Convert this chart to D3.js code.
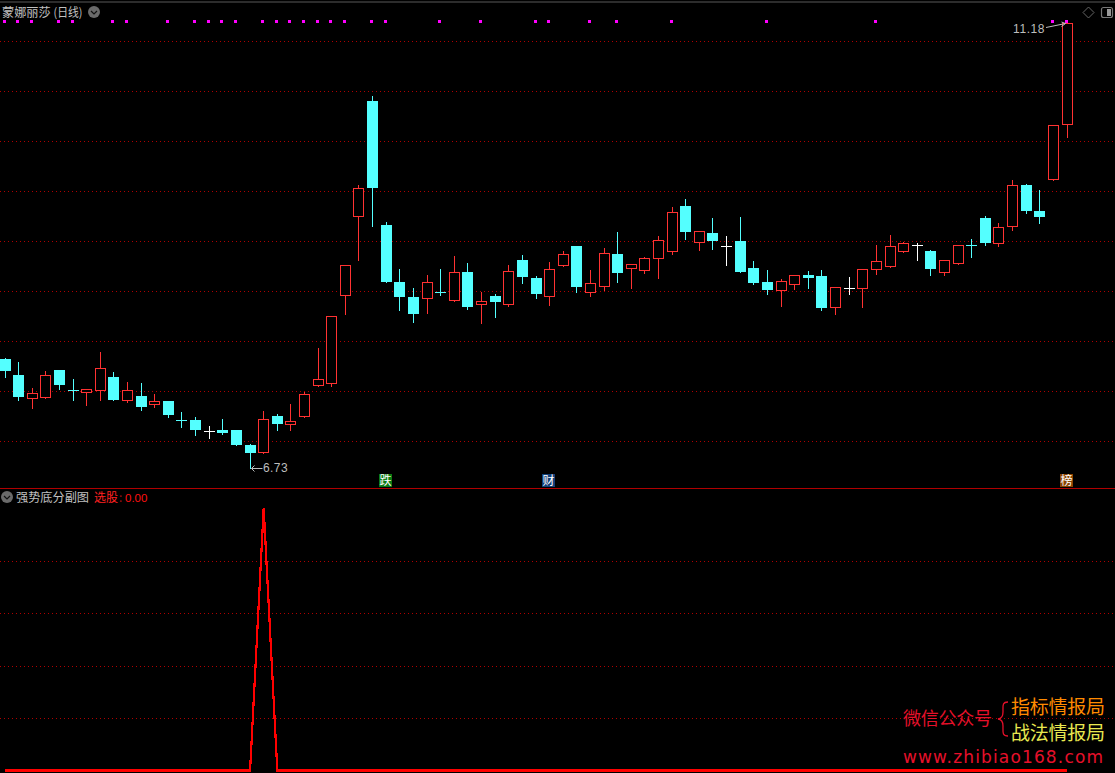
<!DOCTYPE html>
<html><head><meta charset="utf-8">
<script src="https://cdn.jsdelivr.net/npm/d3@7/dist/d3.min.js"></script>
<style>html,body{margin:0;padding:0;background:#000;overflow:hidden}svg{display:block}</style>
</head><body><svg id="c" width="1115" height="773"></svg>
<script>
const opens=[7.82,7.66,7.42,7.43,7.71,7.51,7.48,7.50,7.64,7.40,7.45,7.36,7.40,7.21,7.21,7.10,7.11,7.11,6.96,6.88,7.25,7.16,7.24,7.55,7.57,8.45,9.24,10.40,9.16,8.59,8.44,8.42,8.49,8.40,8.69,8.36,8.45,8.36,8.81,8.63,8.44,8.75,8.95,8.48,8.54,8.87,8.72,8.70,8.82,8.89,9.35,8.98,9.08,8.95,9.00,8.73,8.59,8.50,8.56,8.66,8.65,8.33,8.53,8.52,8.71,8.74,8.89,8.96,8.90,8.68,8.77,8.96,9.23,8.97,9.14,9.56,9.30,9.61,10.16];
const closes=[7.70,7.44,7.48,7.66,7.56,7.50,7.52,7.73,7.41,7.51,7.34,7.40,7.26,7.20,7.11,7.10,7.08,6.96,6.88,7.22,7.17,7.20,7.47,7.62,8.25,8.76,9.53,9.53,8.59,8.44,8.27,8.59,8.48,8.69,8.34,8.40,8.39,8.70,8.64,8.47,8.72,8.87,8.54,8.58,8.88,8.68,8.77,8.83,9.01,9.29,9.09,9.10,9.00,8.95,8.69,8.58,8.51,8.60,8.66,8.63,8.33,8.54,8.53,8.72,8.80,8.95,8.98,8.96,8.72,8.81,8.96,8.95,8.98,9.14,9.56,9.30,9.24,10.16,11.18];
const highs=[7.84,7.80,7.54,7.71,7.71,7.63,7.53,7.90,7.70,7.60,7.59,7.48,7.41,7.30,7.25,7.16,7.23,7.11,6.98,7.31,7.28,7.38,7.50,7.94,8.25,8.76,9.57,10.46,9.20,8.73,8.54,8.67,8.73,8.86,8.79,8.50,8.48,8.77,8.87,8.66,8.80,8.91,8.96,8.72,8.94,9.10,8.77,8.85,9.06,9.35,9.43,9.10,9.24,9.06,9.25,8.81,8.72,8.63,8.67,8.71,8.72,8.54,8.65,8.72,8.97,9.07,9.00,8.99,8.92,8.81,8.97,9.03,9.26,9.19,9.62,9.58,9.52,10.16,11.18];
const lows=[7.64,7.41,7.33,7.43,7.52,7.41,7.36,7.41,7.41,7.39,7.31,7.34,7.24,7.14,7.06,7.03,7.07,6.96,6.73,6.88,7.11,7.11,7.24,7.55,7.55,8.27,8.81,9.15,8.59,8.31,8.19,8.28,8.46,8.40,8.32,8.18,8.24,8.35,8.58,8.43,8.36,8.75,8.49,8.45,8.51,8.59,8.53,8.68,8.63,8.87,9.02,8.91,8.92,8.76,8.69,8.57,8.47,8.35,8.52,8.53,8.31,8.27,8.47,8.34,8.67,8.74,8.89,8.81,8.66,8.66,8.77,8.84,8.96,8.95,9.11,9.28,9.18,9.61,10.04];
const signalDots=[0,1,2,4,5,8,9,12,14,15,16,17,19,20,21,22,23,24,25,27,28,32,35,39,40,43,45,49,56,64,77,78];
const priceTicks=[7,7.5,8,8.5,9,9.5,10,10.5,11];
const pickValues=opens.map((_,i)=>i===19?1:0);
const pickTicks=[0.2,0.4,0.6,0.8];
const markers=[{i:28,t:"跌",bg:"#0b7a12"},{i:40,t:"财",bg:"#123f78"},{i:78,t:"榜",bg:"#8a4300"}];

const RED="#ff3232",CYAN="#54ffff",GRID="#b00000";
const CJK='"Noto Sans CJK SC","Noto Sans",sans-serif';
const svg=d3.select("#c");
svg.append("rect").attr("width",1115).attr("height",773).attr("fill","#000");
const x=d3.scaleLinear().domain([0,78]).range([5,1067]);
const y=d3.scaleLinear().domain([7,11]).range([441,41]);
const yp=d3.scaleLinear().domain([0,1]).range([770.5,508]);
const px=i=>Math.floor(x(i))+0.5;
const sy=v=>Math.round(y(v))+0.5;

svg.append("rect").attr("x",0).attr("y",1).attr("width",1115).attr("height",2).attr("fill","#2c2c2c");

function grid(ticks,sc){
  svg.append("g").selectAll("line").data(ticks).join("line")
    .attr("x1",0).attr("x2",1115)
    .attr("y1",d=>Math.round(sc(d))+0.5).attr("y2",d=>Math.round(sc(d))+0.5)
    .attr("stroke",GRID).attr("stroke-dasharray","1 3");
}
grid(priceTicks,y);grid(pickTicks,yp);

// signal dots
svg.append("g").selectAll("rect").data(signalDots).join("rect")
  .attr("x",d=>Math.floor(x(d))-2).attr("y",20).attr("width",3).attr("height",3).attr("fill","#ff00ff");

// candles
const idx=d3.range(opens.length);
const g=svg.append("g").attr("shape-rendering","crispEdges");
const col=i=>opens[i]===closes[i]?"#fff":(closes[i]>opens[i]?RED:CYAN);
g.selectAll(".w").data(idx).join("line").attr("class","w")
  .attr("x1",px).attr("x2",px).attr("y1",i=>sy(highs[i])).attr("y2",i=>sy(lows[i])).attr("stroke",col);
g.selectAll(".b").data(idx).join(enter=>enter.append("rect")).attr("class","b")
  .each(function(i){
    const top=sy(Math.max(opens[i],closes[i])),bot=sy(Math.min(opens[i],closes[i]));
    const sel=d3.select(this);
    const up=closes[i]>opens[i];
    if(bot-top<2 && !up){
      sel.attr("x",px(i)-5.5).attr("y",top-0.5).attr("width",11).attr("height",Math.max(1,bot-top)).attr("fill",col(i));
    }else if(up){
      sel.attr("x",px(i)-5).attr("y",top).attr("width",10).attr("height",Math.max(1,bot-top-1)).attr("fill","#000").attr("stroke",RED);
    }else{
      sel.attr("x",px(i)-5.5).attr("y",top-0.5).attr("width",11).attr("height",bot-top).attr("fill",CYAN);
    }
  });

// separator
svg.append("rect").attr("x",0).attr("y",488).attr("width",1115).attr("height",1).attr("fill","#b00000");

// pick line
svg.append("path").datum(pickValues)
  .attr("d",d3.line().x((d,i)=>x(i)).y(d=>yp(d)))
  .attr("fill","none").attr("stroke","#ff0000").attr("stroke-width",2.2)
  .attr("stroke-linejoin","miter").attr("shape-rendering","crispEdges");

function text(tx,ty,t,size,fill,font,extra){
  const e=svg.append("text").attr("x",tx).attr("y",ty).attr("font-size",size).attr("fill",fill).attr("font-family",font||CJK).text(t);
  if(extra)for(const k in extra)e.attr(k,extra[k]);
  return e;
}
function chevron(cx,cy){
  svg.append("circle").attr("cx",cx).attr("cy",cy).attr("r",6).attr("fill","#6a6a6a");
  svg.append("path").attr("d",`M${cx-3},${cy-1}L${cx},${cy+2}L${cx+3},${cy-1}`).attr("fill","none").attr("stroke","#111").attr("stroke-width",1.2);
}
text(2,17,"蒙娜丽莎",12.2,"#c0c0c0",CJK);
text(53.5,17,"(日线)",12,"#c0c0c0",CJK,{textLength:29,lengthAdjust:"spacingAndGlyphs"});
chevron(94,12);
chevron(7,497);
text(16,502,"强势底分副图",12.2,"#c0c0c0",CJK,{textLength:73});
text(94,502,"选股",12,"#ff2020",CJK);
text(119,502,":",12,"#a01010",CJK);
text(125,502,"0.00",11.5,"#ff1010",'"Liberation Sans",sans-serif');

// extreme labels
const ann="#bdbdbd",LS='"Liberation Sans",sans-serif';
text(263,472,d3.format(".2f")(d3.min(lows)),12,ann,LS,{"letter-spacing":"0.4px"});
svg.append("path").attr("d",`M${px(18)+12},${sy(6.73)}H${px(18)+1}M${px(18)+4},${sy(6.73)-3}L${px(18)+1},${sy(6.73)}L${px(18)+4},${sy(6.73)+3}`).attr("fill","none").attr("stroke",ann);
text(1013,33,d3.format(".2f")(d3.max(highs)),12,ann,LS,{"letter-spacing":"0.6px"});
svg.append("path").attr("d",`M1046,27.5L${px(78)-2},${sy(11.18)}M${px(78)-6},${sy(11.18)-1.5}L${px(78)-2},${sy(11.18)}L${px(78)-6},${sy(11.18)+3}`).attr("fill","none").attr("stroke",ann);

// top right icons
svg.append("path").attr("d","M1088.5,7L1094,12.5L1088.5,18L1083,12.5Z").attr("fill","none").attr("stroke","#666");
svg.append("rect").attr("x",1101.5).attr("y",7.5).attr("width",11).attr("height",10).attr("rx",2).attr("fill","none").attr("stroke","#777").attr("stroke-width",1.2);
svg.append("rect").attr("x",1107).attr("y",9).attr("width",4).attr("height",7).attr("fill","#999");

// event markers
markers.forEach(m=>{
  const cx=Math.floor(x(m.i))-1;
  svg.append("rect").attr("x",cx-6).attr("y",474).attr("width",13).attr("height",13).attr("fill",m.bg);
  text(cx+0.5,485,m.t,12,"#fff",CJK,{"text-anchor":"middle"});
});

// watermark
text(903,725,"微信公众号",18,"#e6102a",CJK,{textLength:89});
svg.append("path").attr("d","M1008,702C1002,702 1003,706 1003,712C1003,716 1002,718.5 998,719C1002,719.5 1003,722 1003,726C1003,732 1002,736 1008,736").attr("fill","none").attr("stroke","#e6102a").attr("stroke-width",1.3);
text(1011,714,"指标情报局",19,"#ff8a00",CJK,{textLength:94});
text(1011,740,"战法情报局",19,"#e8e850",CJK,{textLength:94});
text(903,763,"www.zhibiao168.com",17,"#e6102a",'"DejaVu Sans",sans-serif',{textLength:200});
</script></body></html>
